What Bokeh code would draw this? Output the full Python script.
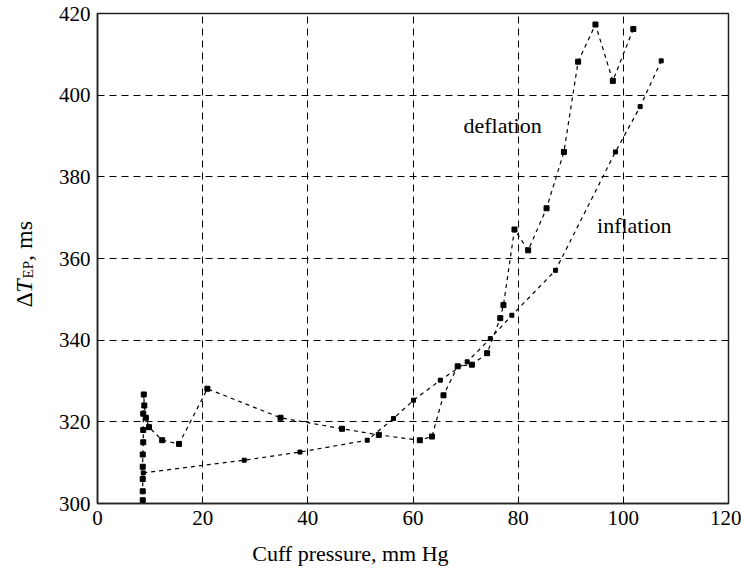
import math
from bokeh.plotting import figure
from bokeh.layouts import row, column
from bokeh.models import Label, Range1d, FixedTicker
from bokeh.core.properties import value
from bokeh.embed import file_html
from bokeh.resources import INLINE

# ---- data ----
deflation_x = [101.9, 98.0, 94.7, 91.4, 88.7, 85.4, 81.9, 79.3, 77.2, 76.6, 74.1, 71.2,
               68.5, 65.8, 63.6, 61.3, 53.5, 46.5, 34.8, 20.9, 15.5, 12.3, 9.8, 9.2,
               8.9, 8.8, 8.7, 8.7, 8.7, 8.6, 8.6, 8.6, 8.6, 8.6]
deflation_y = [416.2, 403.5, 417.3, 408.2, 386.1, 372.3, 362.0, 367.1, 348.6, 345.4, 336.8, 334.0,
               333.6, 326.5, 316.4, 315.5, 316.8, 318.3, 321.0, 328.1, 314.6, 315.5, 318.7, 321.0,
               324.0, 326.7, 322.0, 318.0, 315.0, 312.0, 309.0, 306.0, 303.0, 300.8]

inflation_x = [8.7, 27.9, 38.5, 51.3, 56.3, 60.1, 65.2, 70.3, 74.7, 78.8, 87.1, 98.5,
               103.2, 107.2]
inflation_y = [307.5, 310.6, 312.6, 315.5, 320.8, 325.3, 330.2, 334.7, 340.4, 346.1, 357.1, 386.1,
               397.2, 408.4]

x_ticks = [0, 20, 40, 60, 80, 100, 120]
y_ticks = [300, 320, 340, 360, 380, 400, 420]

FONT = "'Liberation Serif', 'Times New Roman', serif"
X_MIN, X_MAX, Y_MIN, Y_MAX = 0, 120, 300, 420

# ---------------- main plot ----------------
p = figure(width=701, height=533, output_backend="svg", toolbar_location=None,
           x_range=Range1d(X_MIN, X_MAX), y_range=Range1d(Y_MIN, Y_MAX),
           min_border_left=57, min_border_right=13, min_border_top=13, min_border_bottom=30,
           background_fill_color="white", border_fill_color="white")

p.outline_line_color = "#222222"
p.outline_line_width = 1.5

for ax in (p.xaxis[0], p.yaxis[0]):
    ax.major_label_text_font = FONT
    ax.major_label_text_font_size = "21px"
    ax.major_label_text_color = "black"
    ax.axis_line_color = "#222222"
    ax.axis_line_width = 1.5
    ax.major_tick_in = 0
    ax.major_tick_out = 0
    ax.minor_tick_in = 0
    ax.minor_tick_out = 0
    ax.major_label_standoff = 7

p.xaxis.ticker = FixedTicker(ticks=x_ticks)
p.yaxis.ticker = FixedTicker(ticks=y_ticks)

for g in (p.xgrid[0], p.ygrid[0]):
    g.grid_line_color = "black"
    g.grid_line_dash = "7 5"
    g.grid_line_width = 1

p.line(deflation_x, deflation_y, line_color="black", line_width=1.2, line_dash="4 4")
p.scatter(deflation_x, deflation_y, marker="square", size=5, color="black")
p.line(inflation_x, inflation_y, line_color="black", line_width=1.2, line_dash="4 4")
p.scatter(inflation_x, inflation_y, marker="square", size=4, color="black")

p.add_layout(Label(x=69.6, y=392.6, text="deflation", text_font=FONT, text_font_size="22px",
                   text_color="black", text_baseline="alphabetic", text_align="left"))
p.add_layout(Label(x=95.0, y=368.1, text="inflation", text_font=FONT, text_font_size="22px",
                   text_color="black", text_baseline="alphabetic", text_align="left"))

# ---------------- left strip: y label  ΔT_EP, ms ----------------
lab = figure(width=40, height=533, output_backend="svg", toolbar_location=None,
             x_range=Range1d(0, 40), y_range=Range1d(Y_MIN, Y_MAX),
             x_axis_location=None, y_axis_location=None,
             min_border_left=0, min_border_right=0,
             min_border_top=13, min_border_bottom=30,
             background_fill_color="white", border_fill_color="white")
lab.outline_line_color = None
lab.xgrid.visible = False
lab.ygrid.visible = False

ylab_parts = [
    ("Δ", 23, 348.0, "24px", "normal"),
    ("T", 23, 351.6, "24px", "italic"),
    ("EP", 27.5, 355.1, "15px", "normal"),
    (", ms", 23, 359.4, "24px", "normal"),
]
for txt, lx, ly, fs, st in ylab_parts:
    lab.text(x=[lx], y=[ly], text=[txt], angle=math.pi / 2, text_font=value(FONT),
             text_font_size=value(fs), text_font_style=st, text_color="black",
             text_baseline="alphabetic", text_align="left")

# ---------------- bottom strip: x label ----------------
xl = figure(width=741, height=40, output_backend="svg", toolbar_location=None,
            x_range=Range1d(X_MIN, X_MAX), y_range=Range1d(0, 40),
            x_axis_location=None, y_axis_location=None,
            min_border_left=97, min_border_right=13, min_border_top=0, min_border_bottom=0,
            background_fill_color="white", border_fill_color="white")
xl.outline_line_color = None
xl.xgrid.visible = False
xl.ygrid.visible = False
xl.text(x=[48.1], y=[20], text=["Cuff pressure, mm Hg"], text_font=value(FONT),
        text_font_size=value("22px"), text_color="black",
        text_baseline="alphabetic", text_align="center")

layout = column(row(lab, p, spacing=0), xl, spacing=0)
open("out.html", "w").write(file_html(layout, INLINE))
